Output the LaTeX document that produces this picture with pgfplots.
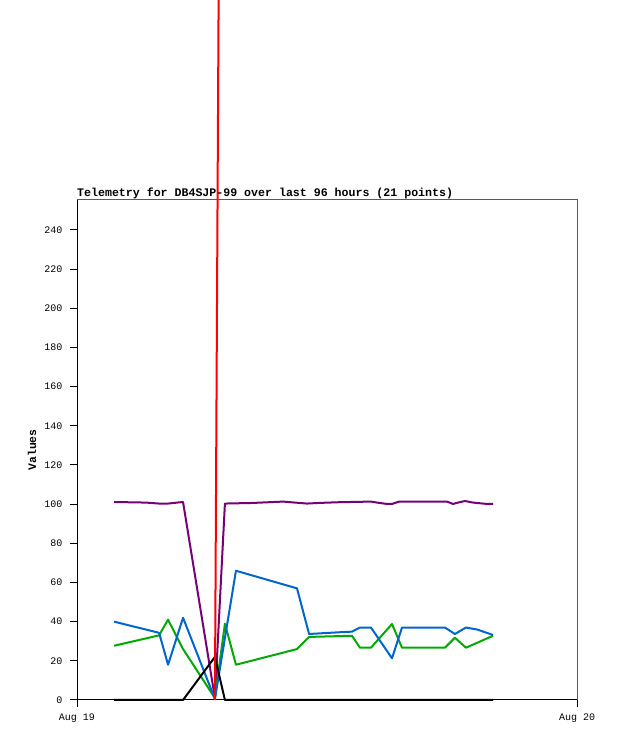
\documentclass[border=0pt]{standalone}
\usepackage{fontspec}
\usepackage{pgfplots}
\pgfplotsset{compat=1.18}
\newfontfamily\mono{Liberation Mono}
\definecolor{cblue}{RGB}{0,102,204}
\definecolor{cgreen}{RGB}{0,170,0}
\definecolor{cpurple}{RGB}{119,0,119}
\definecolor{cgray}{RGB}{90,90,90}
\begin{document}
\begin{tikzpicture}[x=1pt,y=1pt]
\useasboundingbox (0,0) rectangle (618,741);
\clip (0,0) rectangle (618,741);
\begin{axis}[
 at={(77pt,41pt)}, anchor=south west,
 scale only axis, width=500pt, height=500pt,
 xmin=0, xmax=24, ymin=0, ymax=255.3,
 clip=false,
 axis x line=bottom, axis y line=left,
 axis line style={-, line width=1pt, black},
 xtick={0,24}, xticklabels={Aug 19, Aug 20},
 ytick={0,20,...,240},
 minor tick num=0,
 tick align=outside, major tick length=7pt,
 tick style={black, line width=1pt},
 /pgf/number format/assume math mode=true,
 ticklabel style={font=\mono\fontsize{10}{12}\selectfont},
 yticklabel style={anchor=east, xshift=-4pt},
 xticklabel style={anchor=north, yshift=-3pt},
 title={Telemetry for DB4SJP-99 over last 96 hours (21 points)},
 title style={at={(axis description cs:0,1)}, anchor=base west, yshift=-2.5pt, inner sep=0pt, font=\mono\bfseries\fontsize{11.6}{13}\selectfont},
 ylabel={Values},
 every axis y label/.style={at={(axis description cs:-0.09,0.5)}, rotate=90, anchor=center, font=\mono\bfseries\fontsize{11.4}{13}\selectfont},
 every axis plot/.append style={line width=2pt, line join=round},
 extra description/.code={\draw[cgray, line width=1pt] (axis description cs:0,1) -- (axis description cs:1,1) -- (axis description cs:1,0);},
]
\addplot[cpurple] coordinates {
(1.78,101.1) (3.30,100.8) (3.94,100.3) (4.37,100.3) (5.09,101.1) (6.62,1.0)
(7.10,100.3) (8.40,100.6) (9.89,101.3) (11.04,100.3) (11.57,100.6) (12.62,101.0)
(14.11,101.3) (14.40,100.8) (14.88,100.1) (15.12,100.1) (15.46,101.3) (17.76,101.3)
(18.05,100.1) (18.29,100.8) (18.62,101.6) (19.01,100.8) (19.68,100.1) (19.97,100.1)};
\addplot[cgreen] coordinates {
(1.78,27.7) (3.94,33.0) (4.37,41.0) (5.09,26.0) (6.62,1.0) (7.10,39.0) (7.63,18.0)
(10.56,26.0) (11.14,32.2) (13.20,32.8) (13.58,26.7) (14.11,26.7) (15.12,38.8)
(15.60,26.7) (17.66,26.7) (18.14,31.8) (18.67,26.7) (19.97,32.8)};
\addplot[cblue] coordinates {
(1.78,40.0) (3.94,34.3) (4.37,18.0) (5.09,42.0) (6.62,0.5) (7.63,66.0) (10.56,57.0)
(11.14,33.7) (12.62,34.6) (13.20,34.9) (13.58,37.0) (14.11,37.0) (15.12,21.3)
(15.60,37.0) (17.66,37.0) (18.14,33.7) (18.67,37.0) (19.20,36.0) (19.97,33.2)};
\addplot[black] coordinates {
(1.78,0) (3.94,0) (5.09,0) (6.62,22.0) (7.10,0) (19.97,0)};
\addplot[red] coordinates {
(6.62,0) (7.10,970)};
\end{axis}
\end{tikzpicture}
\end{document}
